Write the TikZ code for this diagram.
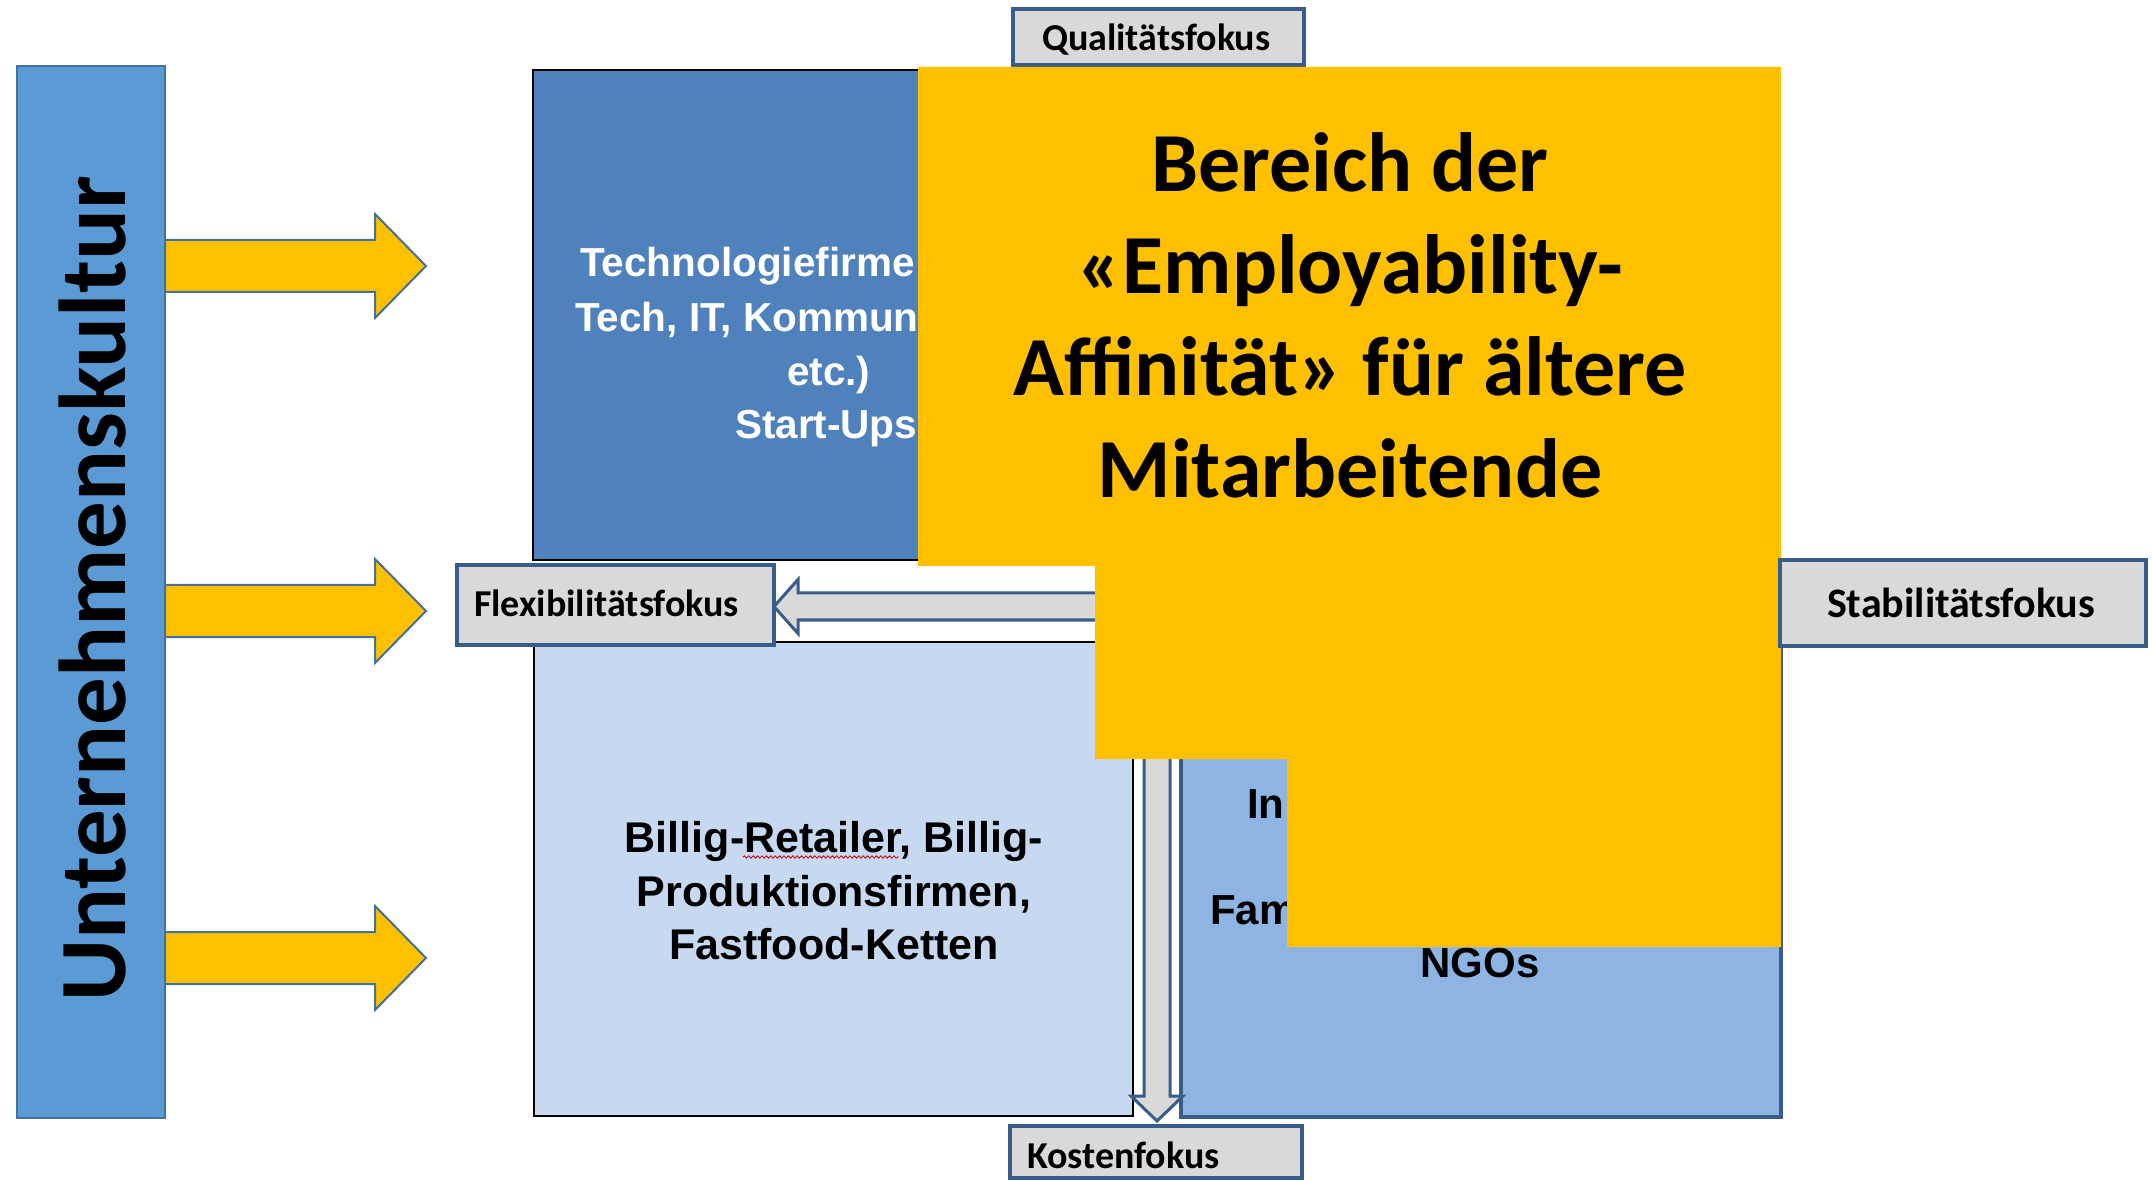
\documentclass[tikz,border=0pt]{standalone}
\usepackage{fontspec}
\setmainfont{Liberation Sans}
\newfontfamily\calibri{Carlito}
\usetikzlibrary{decorations.pathmorphing}

\definecolor{barblue}{HTML}{5B9BD5}
\definecolor{barline}{HTML}{41719C}
\definecolor{techblue}{HTML}{4F81BD}
\definecolor{billigblue}{HTML}{C6D9F1}
\definecolor{ngoblue}{HTML}{8EB4E3}
\definecolor{focusgray}{HTML}{D9D9D9}
\definecolor{focusline}{HTML}{385D8A}
\definecolor{amber}{HTML}{FFC000}

\begin{document}
\begin{tikzpicture}[x=0.5pt,y=-0.5pt,
  every node/.style={inner sep=0pt,outer sep=0pt},
  panel/.style={draw,rectangle,inner sep=0pt},
  focusbox/.style={panel,draw=focusline,line width=2pt,fill=focusgray},
  focustext/.style={font=\calibri\bfseries\fontsize{19pt}{23pt}\selectfont,anchor=base west},
  techtext/.style={font=\bfseries\fontsize{20.25pt}{24pt}\selectfont,text=white,anchor=base west},
  quadtext/.style={font=\bfseries\fontsize{21.5pt}{26pt}\selectfont,anchor=base},
  ngotext/.style={font=\bfseries\fontsize{21pt}{26pt}\selectfont,anchor=base west},
  bigtext/.style={font=\calibri\bfseries\fontsize{42pt}{51pt}\selectfont,anchor=base},
  yarrow/.style={draw=barline,line width=1pt,fill=amber,line join=miter},
  grayarrow/.style={draw=focusline,line width=1.5pt,fill=focusgray,line join=miter}
]
\useasboundingbox (0,0) rectangle (2152,1181);
\fill[white] (0,0) rectangle (2152,1181);

% corporate culture bar on the left
\node[panel,draw=barline,line width=1pt,fill=barblue,minimum width=74pt,minimum height=526pt] (kultur) at (91,592) {};
\node[font=\calibri\bfseries\fontsize{47.5pt}{57pt}\selectfont,rotate=90,anchor=base] (kulturtext) at (125,589) {Unternehmenskultur};

% three block arrows leaving the bar
\foreach \c in {266,611,958} {
  \draw[yarrow] (165,{\c-26}) -- (375,{\c-26}) -- (375,{\c-52}) -- (426,\c)
    -- (375,{\c+52}) -- (375,{\c+26}) -- (165,{\c+26}) -- cycle;
}

% upper-left quadrant
\node[panel,draw=black,line width=1pt,fill=techblue,minimum width=300pt,minimum height=245pt] (tech) at (833,315) {};
\node[techtext] (tech1) at (580,277) {Technologiefirme};
\node[techtext] (tech2) at (575,332) {Tech, IT, Kommun};
\node[techtext] (tech3) at (787,386) {etc.)};
\node[techtext] (tech4) at (735,439) {Start-Ups};

% lower-left quadrant
\node[panel,draw=black,line width=1pt,fill=billigblue,minimum width=299.5pt,minimum height=237pt] (billig) at (833.5,879) {};
\node[quadtext] (billig1) at (834,852) {Billig-Retailer, Billig-};
\node[quadtext] (billig2) at (834,906) {Produktionsfirmen,};
\node[quadtext] (billig3) at (834,959) {Fastfood-Ketten};
\draw[red!80!black,line width=0.4pt,decorate,decoration={snake,amplitude=0.6pt,segment length=2.2pt}] (743,857) -- (899,857);

% lower-right quadrant
\node[panel,draw=focusline,line width=2pt,fill=ngoblue,minimum width=300pt,minimum height=237.5pt] (ngo) at (1481,879.5) {};
\node[ngotext] (ngo1) at (1247,818) {In};
\node[ngotext] (ngo2) at (1210,924) {Fam};
\node[ngotext,anchor=base] (ngo3) at (1480,977) {NGOs};

% axis arrows
\draw[grayarrow] (774,606.5) -- (798,579.5) -- (798,593) -- (1160,593) -- (1160,620)
  -- (798,620) -- (798,633.5) -- cycle;
\draw[grayarrow] (1157,1121) -- (1183,1096) -- (1170,1096) -- (1170,600) -- (1144,600)
  -- (1144,1096) -- (1131,1096) -- cycle;

% axis labels
\node[focusbox,minimum width=145.5pt,minimum height=28pt] (qual) at (1158.5,37) {};
\node[focustext] (qualtext) at (1042,50.5) {Qualitätsfokus};
\node[focusbox,minimum width=158.5pt,minimum height=40pt] (flex) at (615.5,605) {};
\node[focustext] (flextext) at (474,617) {Flexibilitätsfokus};
\node[focusbox,minimum width=146pt,minimum height=26pt] (kosten) at (1156,1152) {};
\node[focustext] (kostentext) at (1027,1168) {Kostenfokus};

% highlighted employability area
\fill[amber] (918,67) -- (1781,67) -- (1781,947) -- (1287,947) -- (1287,759)
  -- (1095,759) -- (1095,566) -- (918,566) -- cycle;
\node[bigtext] (area1) at (1350,191.5) {Bereich der};
\node[bigtext] (area2) at (1350,293.5) {«Employability-};
\node[bigtext] (area3) at (1350,396) {Affinität» für ältere};
\node[bigtext] (area4) at (1350,497.5) {Mitarbeitende};

\node[focusbox,minimum width=183pt,minimum height=43pt] (stab) at (1963,603) {};
\node[font=\calibri\bfseries\fontsize{21pt}{25pt}\selectfont,anchor=base west] (stabtext) at (1827,617.5) {Stabilitätsfokus};
\end{tikzpicture}
\end{document}
